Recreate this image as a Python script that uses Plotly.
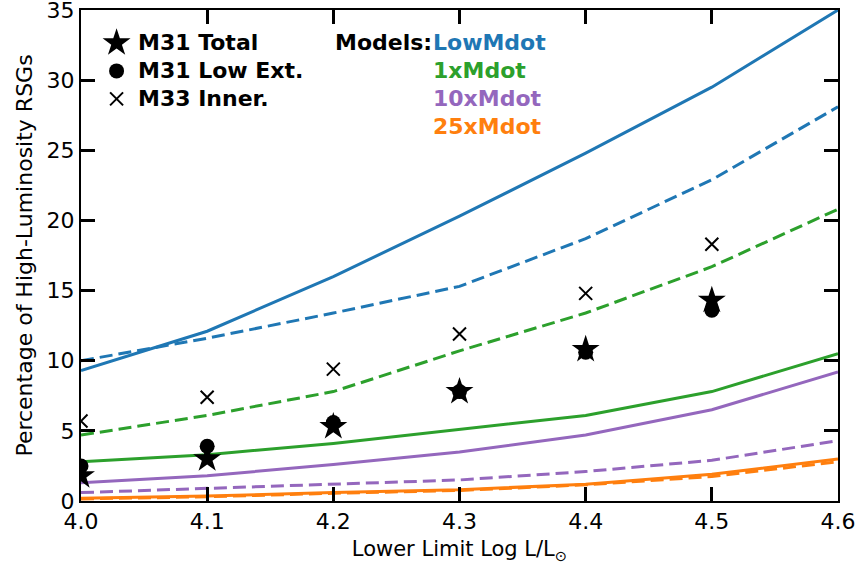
import plotly.graph_objects as go

# ---------------- data ----------------
x_model = [4.0, 4.1, 4.2, 4.3, 4.4, 4.5, 4.6]
low_solid = [9.3, 12.1, 16.0, 20.3, 24.8, 29.5, 35.0]
low_dash = [10.0, 11.6, 13.4, 15.3, 18.7, 22.9, 28.1]
x1_solid = [2.8, 3.3, 4.1, 5.1, 6.1, 7.8, 10.5]
x1_dash = [4.7, 6.1, 7.8, 10.7, 13.4, 16.7, 20.8]
x10_solid = [1.3, 1.8, 2.6, 3.5, 4.7, 6.5, 9.2]
x10_dash = [0.6, 0.9, 1.2, 1.5, 2.1, 2.9, 4.3]
x25_solid = [0.2, 0.35, 0.6, 0.8, 1.2, 1.9, 3.0]
x25_dash = [0.15, 0.3, 0.55, 0.75, 1.15, 1.75, 2.8]

x_obs = [4.0, 4.1, 4.2, 4.3, 4.4, 4.5]
m31_total = [1.8, 3.0, 5.3, 7.8, 10.8, 14.3]
m31_lowext = [2.5, 3.9, 5.6, 7.8, 10.6, 13.6]
m33_inner = [5.7, 7.4, 9.4, 11.9, 14.8, 18.3]

x_ticks = [4.0, 4.1, 4.2, 4.3, 4.4, 4.5, 4.6]
y_ticks = [0, 5, 10, 15, 20, 25, 30, 35]

BLUE, GREEN, PURPLE, ORANGE = "#1f77b4", "#2ca02c", "#9467bd", "#ff7f0e"
DASH = "13px,6px"
LW = 3

fig = go.Figure()
models = [
    (low_solid, BLUE, "solid"), (low_dash, BLUE, DASH),
    (x1_solid, GREEN, "solid"), (x1_dash, GREEN, DASH),
    (x10_solid, PURPLE, "solid"), (x10_dash, PURPLE, DASH),
    (x25_dash, ORANGE, DASH), (x25_solid, ORANGE, "solid"),
]
for ys, col, dash in models:
    fig.add_trace(go.Scatter(x=x_model, y=ys, mode="lines",
                             line=dict(color=col, width=LW, dash=dash),
                             showlegend=False))

STAR = dict(symbol="star", size=21, color="black")
CIRC = dict(symbol="circle", size=15, color="black")
XMK = dict(symbol="x-thin-open", size=13, color="black", line=dict(color="black", width=2))

fig.add_trace(go.Scatter(x=x_obs, y=m31_lowext, mode="markers", marker=CIRC, showlegend=False))
fig.add_trace(go.Scatter(x=x_obs, y=m31_total, mode="markers", marker=STAR, showlegend=False))
fig.add_trace(go.Scatter(x=x_obs, y=m33_inner, mode="markers", marker=XMK, showlegend=False))

# legend keys on an overlay axis in [0,1] fractions
key_x = [0.047, 0.047, 0.047]
key_y = [0.933, 0.876, 0.819]
for kx, ky, mk in zip(key_x, key_y, [STAR, CIRC, XMK]):
    fig.add_trace(go.Scatter(x=[kx], y=[ky], xaxis="x2", yaxis="y2", mode="markers",
                             marker=mk, showlegend=False))

FS = 22
font_leg = dict(family="DejaVu Sans", size=FS, color="black")
labels = ["<b>M31 Total</b>", "<b>M31 Low Ext.</b>", "<b>M33 Inner.</b>"]
for lab, yy in zip(labels, key_y):
    fig.add_annotation(x=0.073, y=yy, xref="paper", yref="paper", text=lab,
                       showarrow=False, xanchor="left", yanchor="middle", font=font_leg)
fig.add_annotation(x=0.466, y=key_y[0], xref="paper", yref="paper", text="<b>Models:</b>",
                   showarrow=False, xanchor="right", yanchor="middle", font=font_leg)
mlabels = [("LowMdot", BLUE), ("1xMdot", GREEN), ("10xMdot", PURPLE), ("25xMdot", ORANGE)]
for i, (lab, col) in enumerate(mlabels):
    fig.add_annotation(x=0.462, y=0.933 - 0.057 * i, xref="paper", yref="paper",
                       text=f"<b>{lab}</b>", showarrow=False, xanchor="left",
                       yanchor="middle", font=dict(family="DejaVu Sans", size=FS, color=col))

axis_common = dict(showline=True, linecolor="black", linewidth=2, mirror="ticks",
                   ticks="inside", ticklen=14, tickwidth=2.5, tickcolor="black",
                   showgrid=False, zeroline=False, ticklabeloverflow="allow",
                   automargin=False,
                   tickfont=dict(family="DejaVu Sans", size=22, color="black"))
fig.update_layout(
    width=859, height=567,
    margin=dict(l=81, r=21, t=10, b=66),
    plot_bgcolor="white", paper_bgcolor="white",
    xaxis=dict(range=[4.0, 4.6], tickvals=x_ticks, ticktext=[f"{v:.1f}" for v in x_ticks],
               title=dict(text="Lower Limit Log L/L<sub>⊙</sub>", standoff=8,
                          font=dict(family="DejaVu Sans", size=21, color="black")),
               **axis_common),
    yaxis=dict(range=[0, 35], tickvals=y_ticks,
               title=dict(text="Percentage of High-Luminosity RSGs", standoff=8,
                          font=dict(family="DejaVu Sans", size=22, color="black")),
               **axis_common),
    xaxis2=dict(range=[0, 1], overlaying="x", visible=False, fixedrange=True),
    yaxis2=dict(range=[0, 1], overlaying="y", visible=False, fixedrange=True),
)

fig.write_html("out.html")
